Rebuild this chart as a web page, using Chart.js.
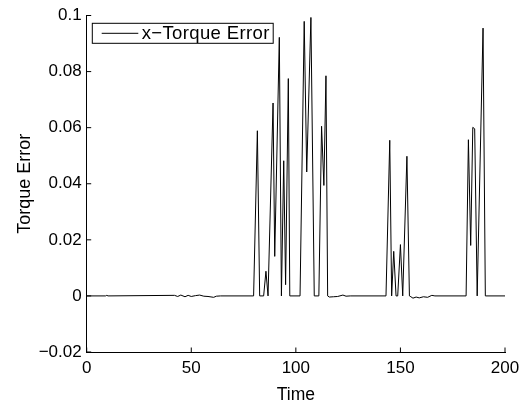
<!DOCTYPE html>
<html><head><meta charset="utf-8">
<script src="https://cdn.jsdelivr.net/npm/chart.js@4/dist/chart.umd.min.js"></script>
<style>html,body{margin:0;padding:0;background:#fff}#wrap{width:531px;height:404px;position:relative}</style>
</head><body><div id="wrap"><canvas id="c" width="531" height="404"></canvas></div>
<script>
const seriesLabel = 'x\u2212Torque Error';
const xTitle = 'Time';
const yTitle = 'Torque Error';
const times = [0, 9, 9.6, 10.2, 42, 43.5, 45, 47, 48.5, 50, 52, 54, 56, 58, 60.7, 62, 64,
  79.8, 81.6, 82.7, 84.6, 85.7, 86.7, 87, 89.1, 89.9, 92.1, 93.1, 94.2, 95.1, 96.4, 97.1,
  102, 104, 105.2, 107.2, 108.8, 111, 112.3, 113.4, 114.4, 115.2,
  116, 118, 120, 122.5, 124, 126,
  143.1, 144.9, 145.8, 146.8, 147.9, 148.7, 150, 151.1, 153.1, 154.3,
  155, 156, 157.5, 159, 161, 163, 165, 166.5,
  181.4, 182.5, 183.6, 184.6, 185.5, 186.7, 189.5, 190.6, 200];
const torqueErrors = [0, 0, 0.0002, 0, 0.0002, -0.0002, 0.0003, -0.0003, 0.0002, -0.0002, 0.0001, 0.0003, -0.0001, -0.0002, -0.0005, -0.0001, 0,
  0, 0.0589, 0, 0, 0.0088, 0, 0, 0.0688, 0.0141, 0.0922, 0, 0.0482, 0.004, 0.0775, 0,
  0, 0.0979, 0.0442, 0.0993, 0, 0, 0.0605, 0.0394, 0.0785, 0,
  -0.0004, -0.0003, -0.0002, 0.0003, -0.0001, 0,
  0, 0.0555, 0, 0.0159, 0, 0, 0.0183, 0, 0.0498, 0,
  -0.0003, -0.0008, -0.0004, -0.0007, -0.0003, -0.0005, 0.0002, 0,
  0, 0.0557, 0.018, 0.0601, 0.0596, 0, 0.0955, 0, 0];
const xTicks = [0, 50, 100, 150, 200];
const xTickLabels = ['0', '50', '100', '150', '200'];
const yTicks = [-0.02, 0, 0.02, 0.04, 0.06, 0.08, 0.1];
const yTickLabels = ['\u22120.02', '0', '0.02', '0.04', '0.06', '0.08', '0.1'];

const FONT = '"Liberation Sans", Arial, Helvetica, sans-serif';
Chart.defaults.font.family = FONT;
Chart.defaults.font.size = 17;
Chart.defaults.color = '#000';

const points = times.map((t, i) => ({x: t, y: torqueErrors[i]}));

const inwardTicks = {
  id: 'inwardTicks',
  afterDatasetsDraw(chart) {
    const {ctx, chartArea: a, scales: {x, y}} = chart;
    ctx.save();
    ctx.strokeStyle = '#000';
    ctx.lineWidth = 1;
    ctx.beginPath();
    xTicks.forEach(v => { const px = x.getPixelForValue(v); ctx.moveTo(px, a.bottom); ctx.lineTo(px, a.bottom - 4.5); });
    yTicks.forEach(v => { const py = y.getPixelForValue(v); ctx.moveTo(a.left, py); ctx.lineTo(a.left + 4.5, py); });
    ctx.stroke();
    ctx.restore();
  }
};

const boxLegend = {
  id: 'boxLegend',
  afterDraw(chart) {
    const {ctx, chartArea: a} = chart;
    const ds = chart.data.datasets[0];
    ctx.save();
    ctx.font = '18.5px ' + FONT;
    const baseW = ctx.measureText(ds.label).width;
    const targetW = 128;
    const n = ds.label.length;
    const sp = Math.max(0, (targetW - baseW) / n);
    ctx.letterSpacing = sp.toFixed(2) + 'px';
    const left = a.left + 5.6, top = a.top + 7.8, h = 20;
    const w = 49.4 + Math.max(targetW, baseW) + 3.5;
    ctx.fillStyle = '#fff';
    ctx.fillRect(left, top, w, h);
    ctx.strokeStyle = '#000';
    ctx.lineWidth = 1;
    ctx.strokeRect(left, top, w, h);
    ctx.beginPath();
    ctx.strokeStyle = ds.borderColor;
    ctx.moveTo(left + 9.4, top + h / 2);
    ctx.lineTo(left + 46, top + h / 2);
    ctx.stroke();
    ctx.fillStyle = '#000';
    ctx.textBaseline = 'middle';
    ctx.textAlign = 'left';
    ctx.fillText(ds.label, left + 49.4, top + h / 2 + 1);
    ctx.restore();
  }
};

new Chart(document.getElementById('c'), {
  type: 'line',
  data: {
    datasets: [{
      label: seriesLabel,
      data: points,
      borderColor: '#000',
      borderWidth: 1,
      pointRadius: 0,
      tension: 0,
      fill: false
    }]
  },
  options: {
    responsive: false,
    devicePixelRatio: 1,
    animation: false,
    layout: {padding: {top: 15.5, right: 26, bottom: 0, left: 0}},
    plugins: {legend: {display: false}, tooltip: {enabled: false}},
    scales: {
      x: {
        type: 'linear', min: 0, max: 200,
        afterBuildTicks: s => { s.ticks = xTicks.map(v => ({value: v})); },
        afterFit: s => { s.height = 52; },
        grid: {display: false, drawTicks: false},
        border: {display: true, color: '#000', width: 1},
        ticks: {padding: 6, maxRotation: 0, autoSkip: false, callback: (v, i) => xTickLabels[i]},
        title: {display: true, text: xTitle, padding: {top: 0, bottom: -1.5}, font: {size: 17.5}}
      },
      y: {
        type: 'linear', min: -0.02, max: 0.1,
        afterBuildTicks: s => { s.ticks = yTicks.map(v => ({value: v})); },
        afterFit: s => { s.width = 86.7; },
        grid: {display: false, drawTicks: false},
        border: {display: true, color: '#000', width: 1},
        ticks: {padding: 5, autoSkip: false, callback: (v, i) => yTickLabels[i]},
        title: {display: true, text: yTitle, padding: {top: 14, bottom: 14}, font: {size: 18}}
      }
    }
  },
  plugins: [inwardTicks, boxLegend]
});
</script></body></html>
